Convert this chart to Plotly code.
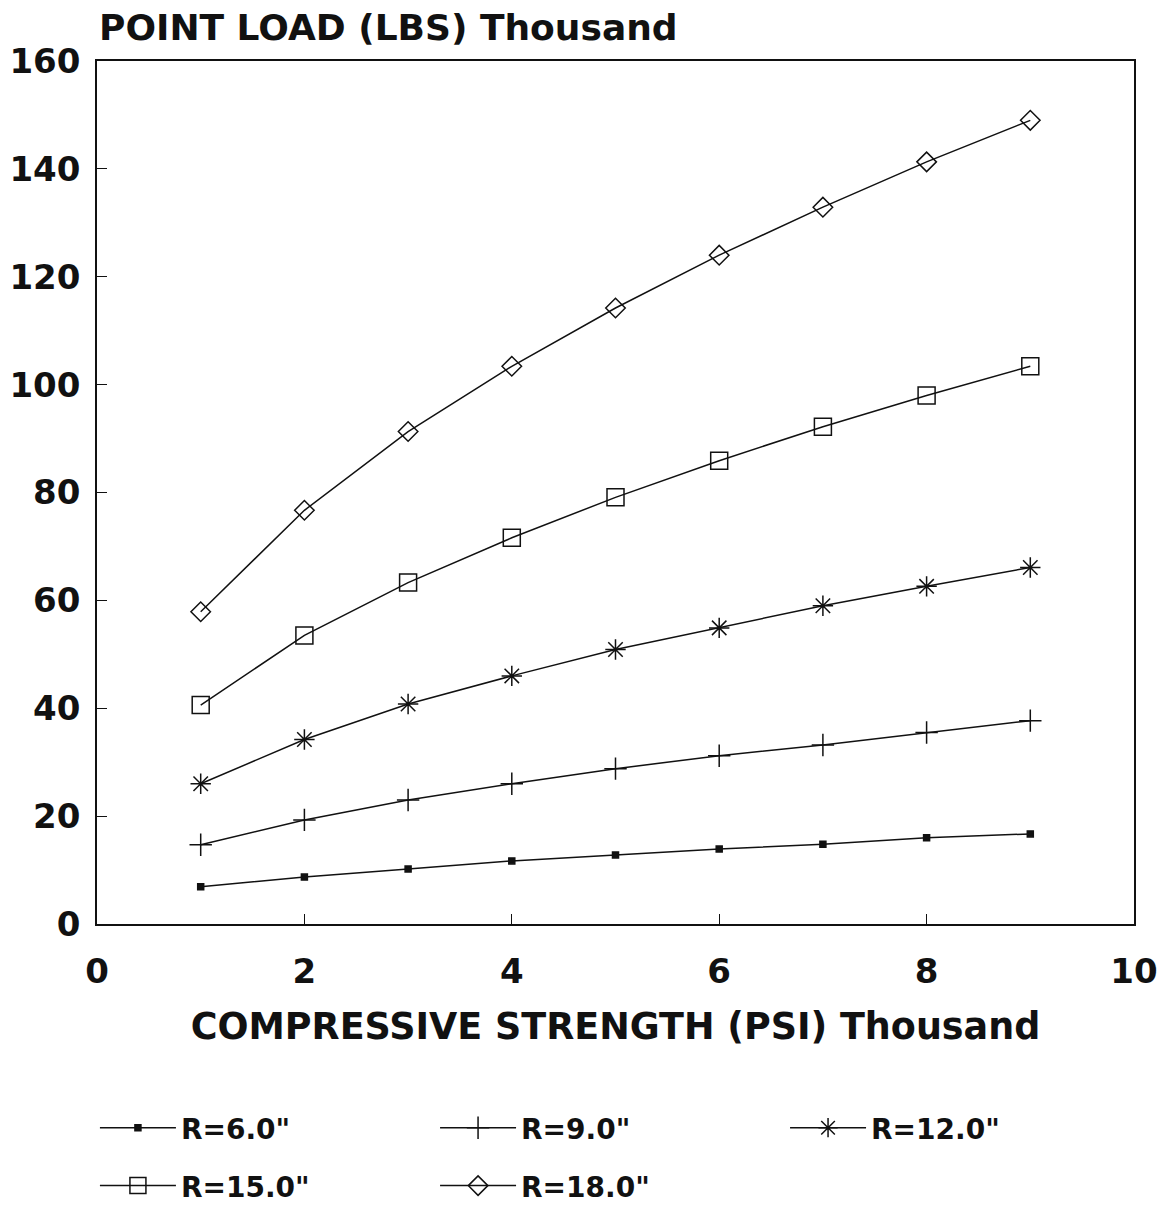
import plotly.graph_objects as go

# Compressive strength (thousand psi)
strength = [1, 2, 3, 4, 5, 6, 7, 8, 9]

# Point load (thousand lbs) for each radius
load_r6 = [6.9, 8.7, 10.2, 11.7, 12.8, 13.9, 14.8, 16.0, 16.7]
load_r9 = [14.7, 19.3, 23.0, 26.0, 28.8, 31.2, 33.2, 35.5, 37.7]
load_r12 = [26.0, 34.2, 40.8, 46.0, 50.9, 54.9, 59.0, 62.6, 66.1]
load_r15 = [40.6, 53.5, 63.3, 71.6, 79.1, 85.9, 92.2, 98.0, 103.4]
load_r18 = [57.9, 76.7, 91.3, 103.4, 114.2, 124.0, 132.9, 141.3, 149.0]

series_names = ['R=6.0"', 'R=9.0"', 'R=12.0"', 'R=15.0"', 'R=18.0"']
series_loads = [load_r6, load_r9, load_r12, load_r15, load_r18]
series_symbols = ["square", "cross-thin-open", "asterisk-open", "square-open", "diamond-open"]
series_sizes = [6, 16, 17, 17, 15]

FONT = "DejaVu Sans"
INK = "#111111"

# one legend box per series, laid out as a 3 + 2 grid under the plot
legend_ids = ["legend", "legend2", "legend3", "legend4", "legend5"]
legend_x = [-0.002, 0.326, 0.6635, -0.002, 0.326]
legend_y = [-0.2364, -0.2364, -0.2364, -0.3035, -0.3035]

fig = go.Figure()
for name, loads, sym, size, lg in zip(series_names, series_loads, series_symbols,
                                      series_sizes, legend_ids):
    fig.add_trace(go.Scatter(
        x=strength, y=loads, name=name, mode="lines+markers", legend=lg,
        line=dict(color=INK, width=1.5),
        marker=dict(symbol=sym, size=size, color=INK,
                    line=dict(color=INK, width=1.5)),
    ))

axis_common = dict(
    showline=True, linecolor=INK, linewidth=1.5, mirror=True,
    showgrid=False, zeroline=False, automargin=False,
    ticks="inside", ticklen=10, tickwidth=1.2, tickcolor=INK,
    tickfont=dict(family=FONT, size=34, color=INK, weight="bold"),
)

fig.update_xaxes(range=[0, 10], dtick=2, tick0=0, ticklabelstandoff=16, **axis_common,
                 title=dict(text="COMPRESSIVE STRENGTH (PSI) Thousand",
                            font=dict(family=FONT, size=36.5, color=INK, weight="bold"),
                            standoff=24))
fig.update_yaxes(range=[0, 160], dtick=20, tick0=0, ticklabelstandoff=8, **axis_common)

fig.add_annotation(text="POINT LOAD (LBS) Thousand", xref="paper", yref="paper",
                   x=0, y=1.0, xanchor="left", yanchor="bottom", yshift=11,
                   showarrow=False,
                   font=dict(family=FONT, size=36, color=INK, weight="bold"))

legend_common = dict(orientation="h", xanchor="left", yanchor="middle",
                     itemwidth=76,
                     font=dict(family=FONT, size=28, color=INK, weight="bold"),
                     itemsizing="trace", bgcolor="rgba(0,0,0,0)")

legend_layout = {lg: dict(x=lx, y=ly, **legend_common)
                 for lg, lx, ly in zip(legend_ids, legend_x, legend_y)}

fig.update_layout(
    width=1160, height=1206,
    margin=dict(l=97, r=26, t=61, b=282, autoexpand=False),
    paper_bgcolor="white", plot_bgcolor="white",
    showlegend=True,
    **legend_layout,
)

fig.write_html("out.html")
